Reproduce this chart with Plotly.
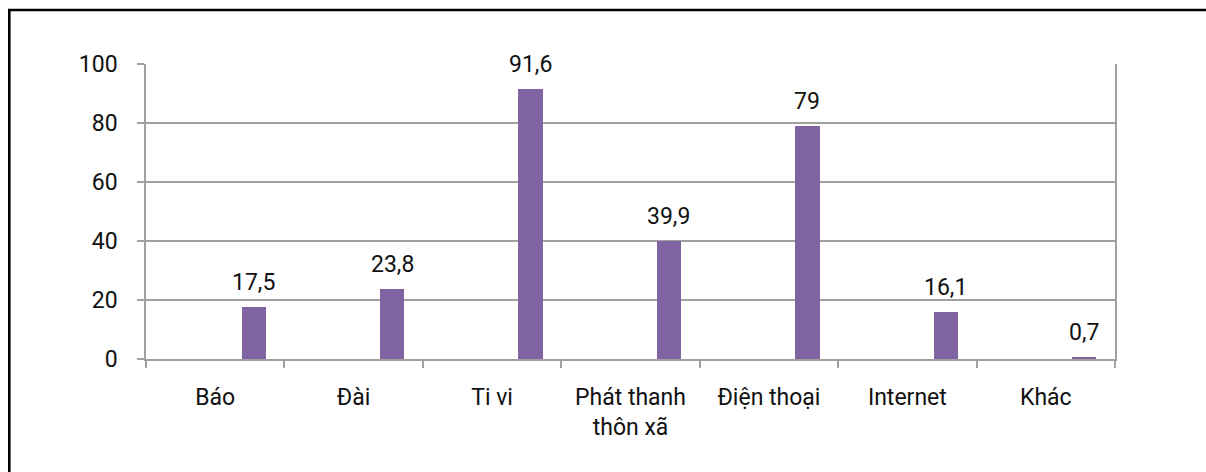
import plotly.graph_objects as go

# Media channels and share of respondents (%)
categories = ["Báo", "Đài", "Ti vi", "Phát thanh<br>thôn xã", "Điện thoại", "Internet", "Khác"]
values = [17.5, 23.8, 91.6, 39.9, 79, 16.1, 0.7]
y_ticks = [0, 20, 40, 60, 80, 100]

W, H = 1206, 472
L, R, T, B = 146, 91, 64, 113
plot_w = W - L - R
plot_h = H - T - B

BAR_COLOR = "#8064A2"
GRID = "#A0A0A0"
FONT = "Roboto"
FONT_SIZE = 23

labels = [f"{v:g}".replace(".", ",") for v in values]

BAR_OFFSET = 0.19
BAR_WIDTH = 0.176

fig = go.Figure()
fig.add_trace(go.Bar(
    x=categories,
    y=values,
    offset=BAR_OFFSET,
    width=BAR_WIDTH,
    marker=dict(color=BAR_COLOR, line=dict(width=0)),
    hoverinfo="skip",
))

# value labels above each bar
for i, (v, t) in enumerate(zip(values, labels)):
    fig.add_annotation(
        x=i + BAR_OFFSET + BAR_WIDTH / 2, y=v,
        xref="x", yref="y",
        text=t, showarrow=False,
        yanchor="bottom", yshift=9,
        font=dict(family=FONT, size=FONT_SIZE, color="#111111"),
    )

# outer frame around the chart
def px_to_paper_x(px):
    return (px - L) / plot_w

def px_to_paper_y(py):
    return (H - B - py) / plot_h

fig.add_shape(
    type="rect", xref="paper", yref="paper",
    x0=px_to_paper_x(9.3), x1=px_to_paper_x(1220),
    y0=px_to_paper_y(490), y1=px_to_paper_y(10),
    line=dict(color="#000000", width=2.6),
    fillcolor="rgba(0,0,0,0)",
    layer="above",
)

fig.update_layout(
    width=W, height=H,
    margin=dict(l=L, r=R, t=T, b=B, pad=0),
    paper_bgcolor="#FFFFFF",
    plot_bgcolor="#FFFFFF",
    showlegend=False,
    font=dict(family=FONT, size=FONT_SIZE, color="#111111"),
    bargap=0,
)

fig.update_xaxes(
    type="category",
    range=[-0.5, len(categories) - 0.5],
    tickson="boundaries",
    ticks="outside", ticklen=7, tickwidth=1.5, tickcolor=GRID,
    showline=True, linecolor=GRID, linewidth=1.5,
    showgrid=False, zeroline=False,
    ticklabelstandoff=17,
    tickfont=dict(family=FONT, size=FONT_SIZE, color="#111111"),
)

fig.update_yaxes(
    range=[0, 100],
    tickvals=y_ticks,
    ticktext=[str(v) for v in y_ticks],
    ticks="outside", ticklen=7, tickwidth=1.5, tickcolor=GRID,
    showline=True, linecolor=GRID, linewidth=1.5, mirror=True,
    showgrid=True, gridcolor=GRID, gridwidth=1.5,
    zeroline=False,
    ticklabelstandoff=15,
    tickfont=dict(family=FONT, size=FONT_SIZE, color="#111111"),
)

fig.write_html("out.html")
